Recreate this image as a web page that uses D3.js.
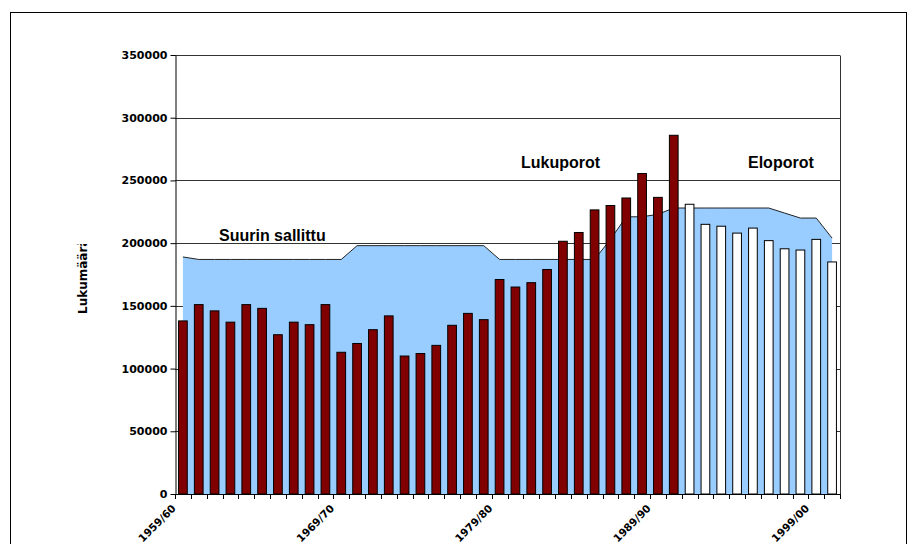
<!DOCTYPE html>
<html>
<head>
<meta charset="utf-8">
<script src="https://cdn.jsdelivr.net/npm/d3@7"></script>
<style>
  html, body { margin: 0; padding: 0; background: #fff; }
  svg { display: block; }
</style>
</head>
<body>
<svg id="chart" width="916" height="544"></svg>
<script>
// Poronhoitovuodet (seasons), one category each
const seasons = [
  "1959/60","1960/61","1961/62","1962/63","1963/64","1964/65","1965/66","1966/67",
  "1967/68","1968/69","1969/70","1970/71","1971/72","1972/73","1973/74","1974/75",
  "1975/76","1976/77","1977/78","1978/79","1979/80","1980/81","1981/82","1982/83",
  "1983/84","1984/85","1985/86","1986/87","1987/88","1988/89","1989/90","1990/91",
  "1991/92","1992/93","1993/94","1994/95","1995/96","1996/97","1997/98","1998/99",
  "1999/00","2000/01"
];

// Counted reindeer (Lukuporot), seasons 1959/60 - 1990/91
const lukuporot = [
  138000, 151000, 146000, 137000, 151000, 148000, 127000, 137000,
  135000, 151000, 113000, 120000, 131000, 142000, 110000, 112000,
  118500, 134500, 144000, 139000, 171000, 165000, 168500, 179000,
  201500, 208500, 226500, 230000, 236000, 255500, 236500, 286000
];

// Live reindeer (Eloporot), seasons 1991/92 - 2000/01
const eloporot = [
  231000, 215000, 213500, 208000, 212000, 202000, 195500, 194500, 203000, 185000
];

// Largest permitted herd (Suurin sallittu), every season
const suurinSallittu = [
  189000, 187000, 187000, 187000, 187000, 187000, 187000, 187000,
  187000, 187000, 187000, 198000, 198000, 198000, 198000, 198000,
  198000, 198000, 198000, 198000, 187000, 187000, 187000, 187000,
  187000, 187000, 187000, 203000, 221000, 221000, 223000, 228000,
  228000, 228000, 228000, 228000, 228000, 228000, 224000, 220000,
  220000, 204000
];

const yTicks = [0, 50000, 100000, 150000, 200000, 250000, 300000, 350000];
const xTickLabels = ["1959/60", "1969/70", "1979/80", "1989/90", "1999/00"];

const plot = { left: 175, right: 840, top: 55, bottom: 494 };
const tickFont = "'DejaVu Sans', sans-serif";
const noteFont = "'Liberation Sans', Arial, sans-serif";

const svg = d3.select("#chart");

// outer chart frame
svg.append("rect")
  .attr("x", 10.5).attr("y", 12.5)
  .attr("width", 896).attr("height", 600)
  .attr("fill", "#fff").attr("stroke", "#000").attr("stroke-width", 1);

const x = d3.scaleBand().domain(seasons).range([plot.left, plot.right]);
const y = d3.scaleLinear().domain([0, 350000]).range([plot.bottom, plot.top]);
const cx = s => x(s) + x.bandwidth() / 2;
const barW = x.bandwidth() * 0.55;
const crisp = v => Math.round(v) + 0.5;

// horizontal gridlines
svg.append("g")
  .selectAll("line")
  .data(yTicks.filter(d => d > 0))
  .join("line")
  .attr("x1", plot.left).attr("x2", plot.right)
  .attr("y1", d => crisp(y(d))).attr("y2", d => crisp(y(d)))
  .attr("stroke", "#333").attr("stroke-width", 1);

// right edge of the plot area
svg.append("line")
  .attr("x1", plot.right + 0.5).attr("x2", plot.right + 0.5)
  .attr("y1", crisp(y(350000))).attr("y2", plot.bottom)
  .attr("stroke", "#333");

// permitted maximum as a filled area
const area = d3.area()
  .x((d, i) => cx(seasons[i]))
  .y0(y(0))
  .y1(d => y(d));
const topLine = d3.line()
  .x((d, i) => cx(seasons[i]))
  .y(d => y(d));

svg.append("path")
  .datum(suurinSallittu)
  .attr("d", area)
  .attr("fill", "#99ccff");
svg.append("path")
  .datum(suurinSallittu)
  .attr("d", topLine)
  .attr("fill", "none")
  .attr("stroke", "#222")
  .attr("stroke-width", 1);

// counted reindeer bars
svg.append("g")
  .selectAll("rect")
  .data(lukuporot)
  .join("rect")
  .attr("x", (d, i) => cx(seasons[i]) - barW / 2)
  .attr("y", d => y(d))
  .attr("width", barW)
  .attr("height", d => y(0) - y(d))
  .attr("fill", "#800000")
  .attr("stroke", "#000")
  .attr("stroke-width", 1);

// live reindeer bars
const eloOffset = lukuporot.length;
svg.append("g")
  .selectAll("rect")
  .data(eloporot)
  .join("rect")
  .attr("x", (d, i) => cx(seasons[eloOffset + i]) - barW / 2)
  .attr("y", d => y(d))
  .attr("width", barW)
  .attr("height", d => y(0) - y(d))
  .attr("fill", "#fff")
  .attr("stroke", "#000")
  .attr("stroke-width", 1);

// y axis
const yAxis = svg.append("g")
  .attr("transform", `translate(${plot.left + 0.5},0)`)
  .call(d3.axisLeft(y).tickValues(yTicks).tickSize(5).tickSizeOuter(0)
    .tickFormat(d3.format("d")).tickPadding(3));
yAxis.select(".domain").attr("stroke", "#000");
yAxis.selectAll(".tick line").attr("stroke", "#000");
yAxis.selectAll(".tick text")
  .attr("font-family", tickFont)
  .attr("font-weight", "bold")
  .attr("font-size", "11px")
  .attr("fill", "#000");

// x axis line and ticks at category boundaries
const bounds = seasons.map(s => x(s)).concat([plot.right]);
const xAxis = svg.append("g");
xAxis.append("line")
  .attr("x1", plot.left).attr("x2", plot.right + 1)
  .attr("y1", plot.bottom + 0.5).attr("y2", plot.bottom + 0.5)
  .attr("stroke", "#000");
xAxis.selectAll("line.tick")
  .data(bounds)
  .join("line")
  .attr("class", "tick")
  .attr("x1", d => crisp(d)).attr("x2", d => crisp(d))
  .attr("y1", plot.bottom).attr("y2", plot.bottom + 5)
  .attr("stroke", "#000");
xAxis.selectAll("text")
  .data(xTickLabels)
  .join("text")
  .attr("transform", d => `translate(${x(d) + 1.5},${plot.bottom + 15}) rotate(-45)`)
  .attr("text-anchor", "end")
  .attr("font-family", tickFont)
  .attr("font-weight", "bold")
  .attr("font-size", "10.5px")
  .text(d => d);

// y axis title, its upper end cut off as in the printed figure
svg.append("clipPath").attr("id", "titleClip")
  .append("rect").attr("x", 60).attr("y", 244).attr("width", 40).attr("height", 100);
svg.append("g")
  .attr("clip-path", "url(#titleClip)")
  .append("text")
  .attr("transform", "translate(87,314) rotate(-90)")
  .attr("font-family", tickFont)
  .attr("font-weight", "bold")
  .attr("font-size", "12px")
  .text("Lukumäärä");

// series notes inside the plot
const notes = [
  { text: "Suurin sallittu", x: 219, y: 241 },
  { text: "Lukuporot", x: 521, y: 168 },
  { text: "Eloporot", x: 748, y: 168 }
];
svg.append("g")
  .selectAll("text")
  .data(notes)
  .join("text")
  .attr("x", d => d.x).attr("y", d => d.y)
  .attr("font-family", noteFont)
  .attr("font-weight", "bold")
  .attr("font-size", "16px")
  .attr("fill", "#000")
  .text(d => d.text);
</script>
</body>
</html>
